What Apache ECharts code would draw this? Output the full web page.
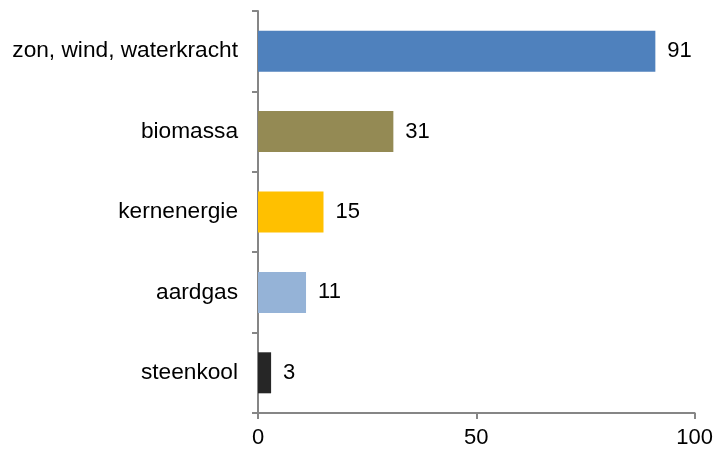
<!DOCTYPE html>
<html>
<head>
<meta charset="utf-8">
<script src="https://cdn.jsdelivr.net/npm/echarts@6/dist/echarts.min.js"></script>
<style>
  html, body { margin: 0; padding: 0; background: #fff; }
  #chart { width: 716px; height: 454px; }
</style>
</head>
<body>
<div id="chart"></div>
<script>
var categories = ['zon, wind, waterkracht', 'biomassa', 'kernenergie', 'aardgas', 'steenkool'];
var values = [91, 31, 15, 11, 3];
var barColors = ['#4F81BD', '#948A54', '#FFC000', '#95B3D7', '#262626'];
var xTicks = [0, 50, 100];

var axisGray = '#868686';
var font = 'Liberation Sans, Arial, sans-serif';

var chart = echarts.init(document.getElementById('chart'));

var option = {
    animation: false,
    grid: { left: 258, right: 21, top: 11, bottom: 41, containLabel: false },
    xAxis: {
        type: 'value',
        min: xTicks[0],
        max: xTicks[xTicks.length - 1],
        interval: 50,
        splitLine: { show: false },
        axisLine: { show: true, lineStyle: { color: axisGray, width: 2 } },
        axisTick: { show: true, length: 6, lineStyle: { color: axisGray, width: 2 } },
        axisLabel: { color: '#000', fontSize: 22, fontFamily: font, margin: 14 }
    },
    yAxis: {
        type: 'category',
        data: categories,
        inverse: true,
        axisLine: { show: true, lineStyle: { color: axisGray, width: 2 } },
        axisTick: { show: true, length: 6, alignWithLabel: false, lineStyle: { color: axisGray, width: 2 } },
        axisLabel: { color: '#000', fontSize: 22.7, fontFamily: font, margin: 20 }
    },
    series: [{
        type: 'bar',
        barWidth: '51%',
        data: values.map(function (v, i) {
            return { value: v, itemStyle: { color: barColors[i] } };
        }),
        label: {
            show: true,
            position: 'right',
            distance: 12,
            color: '#000',
            fontSize: 22,
            fontFamily: font
        }
    }]
};

chart.setOption(option);
</script>
</body>
</html>
